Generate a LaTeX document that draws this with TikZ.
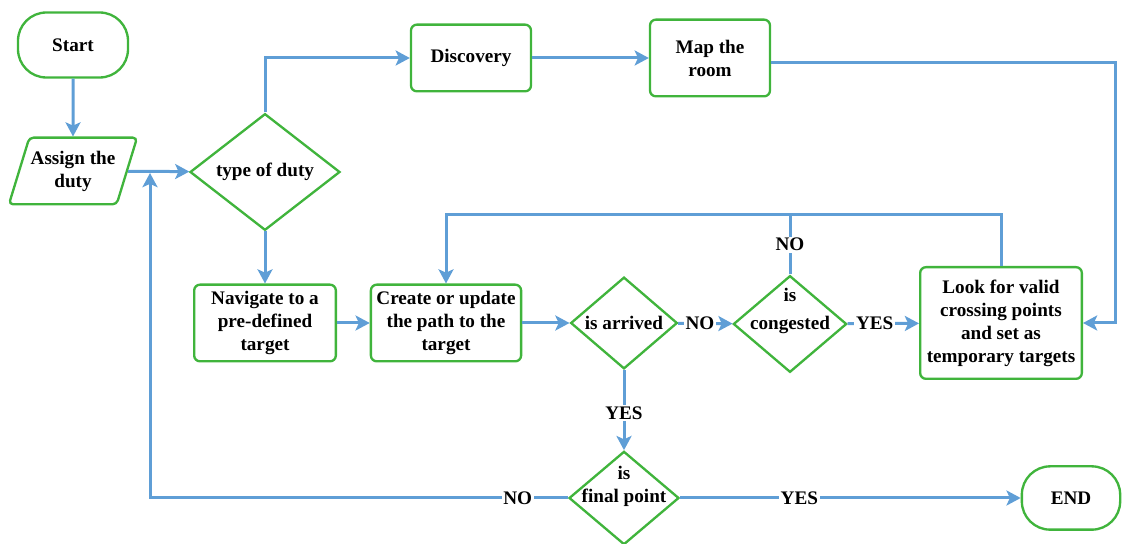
\documentclass[tikz,border=0pt]{standalone}
\usepackage{fontspec}
\setmainfont{Liberation Serif}
\usetikzlibrary{arrows.meta,positioning,shapes.geometric}
\definecolor{flowblue}{RGB}{95,158,214}
\definecolor{boxgreen}{RGB}{64,180,60}
\tikzset{
  base/.style={draw=boxgreen, line width=1.4pt, align=center, fill=white, font=\rmfamily\bfseries\fontsize{11.5}{13.8}\selectfont},
  terminal/.style={base, rounded corners=17pt, minimum width=66pt, minimum height=39pt},
  process/.style={base, rounded corners=3.5pt},
  inout/.style={base, trapezium, trapezium left angle=69, trapezium right angle=111, trapezium stretches=true, rounded corners=2.5pt, minimum width=77pt, minimum height=40pt, inner xsep=0pt},
  decision/.style={base, diamond, inner sep=0pt},
  dtext/.style={align=center, font=\rmfamily\bfseries\fontsize{11.5}{13.8}\selectfont},
  answer/.style={fill=white, inner sep=1pt, font=\rmfamily\bfseries\fontsize{11.5}{13.8}\selectfont},
  line/.style={-{Stealth[length=8.5pt, width=9pt, inset=2pt]}, draw=flowblue, line width=1.8pt},
  plain/.style={draw=flowblue, line width=1.8pt}
}

\begin{document}
\begin{tikzpicture}[x=0.6pt, y=-0.6pt]
  \useasboundingbox (0,0) rectangle (1123,544);

  \node[terminal] (start) at (73,45) {Start};
  \node[inout] (assign) at (73,171) {Assign the\\duty};
  \node[decision, minimum width=90pt, minimum height=70pt] (duty) at (265,172) {type of duty};
  \node[process, minimum width=72pt, minimum height=40pt] (disc) at (471,58) {Discovery};
  \node[process, minimum width=72pt, minimum height=46pt] (map) at (710,58) {Map the\\room};
  \node[process, minimum width=85pt, minimum height=46pt] (nav) at (265,323) {Navigate to a\\pre-defined\\target};
  \node[process, minimum width=89pt, minimum height=46pt] (path) at (446,323) {Create or update\\the path to the\\target};
  \node[decision, minimum width=64pt, minimum height=55pt] (arrived) at (624,323) {is arrived};
  \node[decision, minimum width=68pt, minimum height=58pt,
        label={[dtext, yshift=8pt]center:is\\[3pt]congested}] (cong) at (790,324) {};
  \node[process, minimum width=97pt, minimum height=67pt] (look) at (1001,323) {Look for valid\\crossing points\\and set as\\temporary targets};
  \node[decision, minimum width=66pt, minimum height=56pt,
        label={[dtext, yshift=7pt]center:is\\final point}] (final) at (624,498) {};
  \node[terminal, minimum width=59pt, minimum height=38pt] (end) at (1071,498) {END};

  % turning points
  \coordinate (looptop) at (1001,215);
  \coordinate (mapturn) at (1115,323);
  \coordinate (back) at (150,173);

  \draw[line] (start) -- (assign);
  \draw[line] (assign) -- (duty);
  \draw[line] (duty.north) |- (disc.west);
  \draw[line] (disc) -- (map);
  \draw[line] ([yshift=-3pt]map.east) -| (mapturn) -- (look.east);
  \draw[line] (duty.south) -- (nav.north);
  \draw[line] (nav) -- (path);
  \draw[line] (path) -- (arrived);
  \draw[line] (arrived) -- node[answer, pos=.4] {NO} (cong);
  \draw[line] (cong) -- node[answer, pos=.38] {YES} (look);
  \draw[line] (look.north) |- (path.north |- looptop) -- (path.north);
  \draw[plain] (cong.north) -- node[answer] {NO} (cong.north |- looptop);
  \draw[line] (arrived.south) -- node[answer, pos=.54] {YES} (final.north);
  \draw[line] (final.west) -- node[answer, pos=.12] {NO} (final.west -| back) -- (back);
  \draw[line] (final.east) -- node[answer, pos=.35] {YES} (end.west);
\end{tikzpicture}
\end{document}
